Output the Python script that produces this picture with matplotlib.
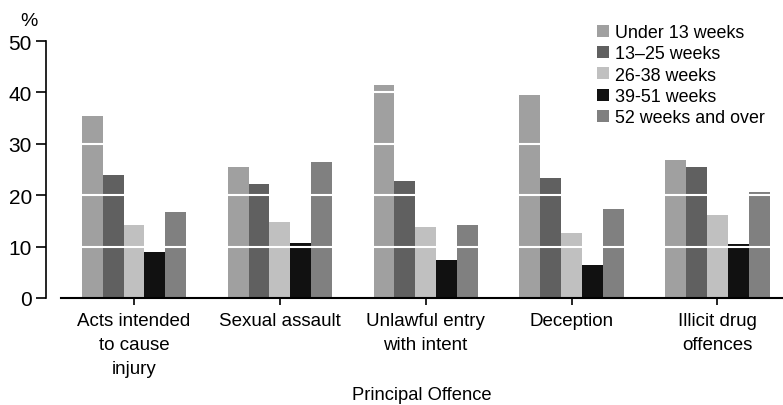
import matplotlib
matplotlib.use('Agg')
import matplotlib.pyplot as plt
import numpy as np

plt.rcParams['font.family'] = ['Liberation Sans', 'DejaVu Sans']

# data
offences = ['Acts intended\nto cause\ninjury', 'Sexual assault', 'Unlawful entry\nwith intent',
            'Deception', 'Illicit drug\noffences']
series = ['Under 13 weeks', '13\u201325 weeks', '26-38 weeks', '39-51 weeks', '52 weeks and over']
under13 = [35.4, 25.5, 41.4, 39.5, 26.8]
w13_25 = [23.9, 22.2, 22.8, 23.3, 25.5]
w26_38 = [14.2, 14.8, 13.8, 12.6, 16.1]
w39_51 = [8.9, 10.7, 7.4, 6.4, 10.5]
w52plus = [16.7, 26.5, 14.2, 17.3, 20.6]
colors = ['#a0a0a0', '#606060', '#c0c0c0', '#111111', '#808080']

values = [under13, w13_25, w26_38, w39_51, w52plus]

fig = plt.figure(figsize=(7.83, 4.06), dpi=100)
ax = fig.add_axes([61 / 783, 107 / 406, 722 / 783, 257 / 406])

x = np.arange(len(offences))
width = 0.143
for i, (vals, name, col) in enumerate(zip(values, series, colors)):
    ax.bar(x + (i - 2) * width, vals, width, color=col, label=name, zorder=2)

# white gridlines across the bars
for yv in [10, 20, 30, 40]:
    ax.axhline(yv, color='white', lw=1.5, zorder=3)

ax.set_xlim(-0.5, 4.45)
ax.set_ylim(0, 50)
ax.set_yticks([0, 10, 20, 30, 40, 50])
ax.set_xticks(x)
ax.set_xticklabels(offences, fontsize=13.5, linespacing=1.55)
ax.tick_params(axis='y', labelsize=15, length=7, width=1.2, pad=3)
ax.tick_params(axis='x', length=5, width=1.2, pad=5)

ax.spines['top'].set_visible(False)
ax.spines['right'].set_visible(False)
ax.spines['left'].set_position(('outward', 11))
ax.spines['left'].set_linewidth(1.2)
ax.spines['bottom'].set_linewidth(1.5)

ax.set_xlabel('Principal Offence', fontsize=13.2, labelpad=6)
fig.text(29 / 783, 1 - 21 / 406, '%', fontsize=14, ha='center', va='center')

leg = ax.legend(loc='upper left', bbox_to_anchor=(597 / 783, 1 - 25 / 406),
                bbox_transform=fig.transFigure, frameon=False, fontsize=12.9,
                handlelength=0.65, handleheight=0.65, handletextpad=0.35,
                labelspacing=0.24, borderpad=0, borderaxespad=0)

plt.savefig('out.png', dpi=100)
